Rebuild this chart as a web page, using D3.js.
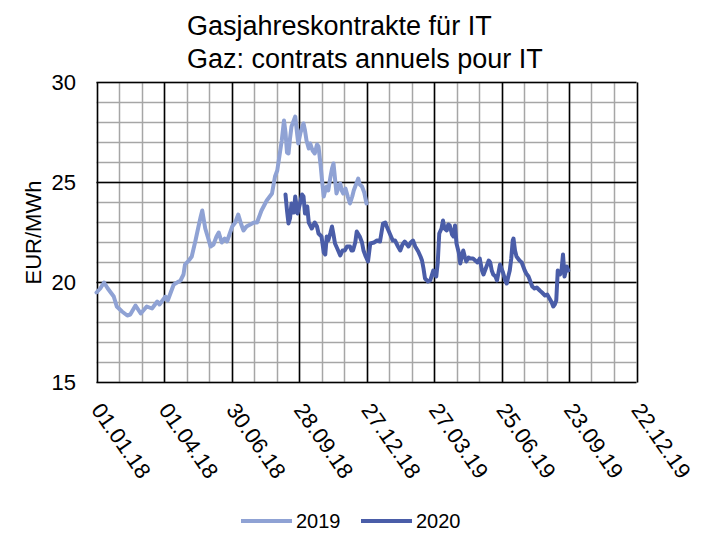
<!DOCTYPE html>
<html>
<head>
<meta charset="utf-8">
<script src="https://cdn.jsdelivr.net/npm/d3@7"></script>
<style>
  body { margin: 0; background: #fff; }
  text { font-family: "Liberation Sans", Arial, sans-serif; fill: #000; }
</style>
</head>
<body>
<div id="chart"></div>
<script>
// Titel
const titleLines = ['Gasjahreskontrakte für IT', 'Gaz: contrats annuels pour IT'];
const yLabel = 'EUR/MWh';

// Achsen
const yTicks = [15, 20, 25, 30];
const xTickLabels = ['01.01.18', '01.04.18', '30.06.18', '28.09.18', '27.12.18',
  '27.03.19', '25.06.19', '23.09.19', '22.12.19'];

// Serie 2019 (Jahreskontrakt 2019)
const dates2019 = [
  '2018-01-01','2018-01-06','2018-01-11','2018-01-16','2018-01-20','2018-01-24','2018-01-28',
  '2018-02-04','2018-02-11','2018-02-15','2018-02-22','2018-03-01','2018-03-09','2018-03-16',
  '2018-03-23','2018-03-26','2018-04-03','2018-04-06','2018-04-14','2018-04-23','2018-04-27',
  '2018-04-29','2018-05-04','2018-05-08','2018-05-13','2018-05-17','2018-05-20','2018-05-22',
  '2018-05-26','2018-05-30','2018-06-02','2018-06-06','2018-06-10','2018-06-13','2018-06-17',
  '2018-06-21','2018-06-24','2018-07-01','2018-07-05','2018-07-09','2018-07-13','2018-07-16',
  '2018-07-20','2018-07-25','2018-07-30','2018-08-03','2018-08-09','2018-08-16','2018-08-23',
  '2018-08-27','2018-08-30','2018-09-01','2018-09-05','2018-09-08','2018-09-10','2018-09-12',
  '2018-09-14','2018-09-16','2018-09-18','2018-09-20','2018-09-23','2018-09-25','2018-09-27',
  '2018-09-30','2018-10-04','2018-10-06','2018-10-08','2018-10-11','2018-10-13','2018-10-16',
  '2018-10-19','2018-10-22','2018-10-24','2018-10-27','2018-10-29','2018-10-31','2018-11-02',
  '2018-11-04','2018-11-06','2018-11-09','2018-11-11','2018-11-13','2018-11-15','2018-11-17',
  '2018-11-20','2018-11-22','2018-11-24','2018-11-26','2018-11-29','2018-12-02','2018-12-05',
  '2018-12-08','2018-12-10','2018-12-13','2018-12-16','2018-12-18','2018-12-21','2018-12-24',
  '2018-12-27'
];
const values2019 = [
  19.5, 19.7, 20.0, 19.7, 19.5, 19.3, 18.8,
  18.55, 18.35, 18.4, 18.85, 18.45, 18.8, 18.7,
  19.05, 18.9, 19.3, 19.1, 19.9, 20.1, 20.4,
  20.9, 21.1, 21.3, 22.1, 22.8, 23.3, 23.6,
  22.7, 22.2, 21.8, 21.9, 22.3, 22.5, 22.0,
  22.2, 22.05, 22.8, 23.0, 23.4, 22.9, 22.6,
  22.8, 22.9, 23.0, 23.0, 23.6, 24.1, 24.45,
  25.3, 25.6, 26.1, 27.1, 28.1, 27.5, 26.5,
  26.45, 27.2, 27.8, 28.0, 28.3, 27.6, 26.95,
  27.5, 27.95, 27.6, 27.1, 26.7, 26.95, 26.6,
  26.45, 26.9, 26.8, 25.8, 25.0, 24.3, 24.6,
  24.8, 24.6, 25.3, 25.7, 25.95, 25.2, 24.45,
  24.8, 24.95, 24.6, 24.45, 24.7, 24.3, 23.95,
  24.3, 24.6, 24.9, 25.2, 24.9, 24.8, 24.5,
  23.95
];

// Serie 2020 (Jahreskontrakt 2020)
const dates2020 = [
  '2018-09-10','2018-09-12','2018-09-14','2018-09-16','2018-09-18','2018-09-21','2018-09-23',
  '2018-09-26','2018-09-29','2018-10-02','2018-10-04','2018-10-06','2018-10-09','2018-10-11',
  '2018-10-15','2018-10-19','2018-10-22','2018-10-24','2018-10-28','2018-10-31','2018-11-02',
  '2018-11-04','2018-11-06','2018-11-09','2018-11-11','2018-11-13','2018-11-15','2018-11-18',
  '2018-11-22','2018-11-25','2018-11-28','2018-12-01','2018-12-05','2018-12-07','2018-12-09',
  '2018-12-12','2018-12-14','2018-12-18','2018-12-21','2018-12-23','2018-12-26','2018-12-29',
  '2019-01-01','2019-01-06','2019-01-10','2019-01-14','2019-01-18','2019-01-21','2019-01-23',
  '2019-01-27','2019-01-31','2019-02-03','2019-02-07','2019-02-10','2019-02-13','2019-02-16',
  '2019-02-21','2019-02-24','2019-02-27','2019-03-02','2019-03-06','2019-03-09','2019-03-11',
  '2019-03-13','2019-03-15','2019-03-19','2019-03-22','2019-03-26','2019-03-28','2019-03-30',
  '2019-04-01','2019-04-03','2019-04-06','2019-04-08','2019-04-10','2019-04-13','2019-04-15',
  '2019-04-17','2019-04-20','2019-04-22','2019-04-24','2019-04-26','2019-04-29','2019-05-01',
  '2019-05-03','2019-05-05','2019-05-07','2019-05-09','2019-05-12','2019-05-14','2019-05-18',
  '2019-05-21','2019-05-24','2019-05-27','2019-05-30','2019-06-01','2019-06-03','2019-06-05',
  '2019-06-08','2019-06-10','2019-06-12','2019-06-14','2019-06-17','2019-06-19','2019-06-21',
  '2019-06-23','2019-06-25','2019-06-27','2019-06-30','2019-07-02','2019-07-04','2019-07-06',
  '2019-07-08','2019-07-10','2019-07-11','2019-07-13','2019-07-15','2019-07-17','2019-07-19',
  '2019-07-22','2019-07-24','2019-07-26','2019-07-28','2019-07-31','2019-08-02','2019-08-05',
  '2019-08-08','2019-08-11','2019-08-15','2019-08-18','2019-08-22','2019-08-25','2019-08-28',
  '2019-08-31','2019-09-02','2019-09-04','2019-09-06','2019-09-08','2019-09-11','2019-09-13',
  '2019-09-15','2019-09-17','2019-09-20','2019-09-22'
];
const values2020 = [
  24.4, 23.6, 22.95, 23.2, 23.95, 23.5, 24.3,
  23.45, 23.9, 24.4, 24.3, 23.45, 23.8, 23.0,
  22.7, 23.0, 22.8, 22.45, 22.3, 21.5, 21.4,
  22.3, 22.1, 22.5, 22.8, 22.4, 21.95, 21.7,
  21.35, 21.6, 21.6, 21.8, 21.8, 21.6, 21.6,
  22.0, 22.55, 22.3, 22.0, 21.6, 21.3, 21.05,
  21.95, 22.0, 22.1, 22.05, 22.95, 23.0, 22.8,
  22.45, 22.1, 22.1, 21.8, 21.6, 21.9, 22.05,
  21.8, 22.0, 22.1, 21.8, 21.55, 21.3, 21.1,
  20.7, 20.2, 20.05, 20.1, 20.6, 20.4, 20.3,
  21.0, 22.45, 22.7, 23.1, 22.7, 22.6, 22.9,
  22.85, 22.4, 22.3, 22.85, 21.95, 21.5, 20.95,
  21.3, 21.6, 21.3, 21.05, 21.25, 21.2, 21.2,
  21.1, 21.0, 21.2, 20.6, 20.4, 20.6, 20.8,
  21.1, 21.0, 20.6, 20.4, 20.3, 20.1, 20.5,
  20.9, 20.7, 20.5, 20.1, 19.95, 20.3, 20.6,
  21.2, 22.1, 22.2, 21.6, 21.3, 21.2, 21.1,
  21.0, 20.8, 20.6, 20.45, 20.3, 20.1, 19.8,
  19.7, 19.75, 19.6, 19.5, 19.35, 19.4, 19.2,
  19.0, 18.8, 18.9, 19.1, 20.6, 20.4, 20.6,
  21.4, 20.3, 20.8, 20.6
];

const seriesNames = ['2019', '2020'];
const seriesColors = ['#8FA2D4', '#4A5DA8'];

const width = 706, height = 534;
const margin = { top: 82.5, right: 69.5, bottom: 151.5, left: 96.5 };

const parseDate = d3.timeParse('%Y-%m-%d');
const startDate = parseDate('2018-01-01');
const endDate = d3.timeDay.offset(startDate, 720);

const xScale = d3.scaleTime()
  .domain([startDate, endDate])
  .range([margin.left, width - margin.right]);
const yScale = d3.scaleLinear()
  .domain([15, 30])
  .range([height - margin.bottom, margin.top]);

const svg = d3.select('#chart').append('svg')
  .attr('width', width)
  .attr('height', height);

// Gitter: Nebenlinien alle 30 Tage / 1 EUR, Hauptlinien alle 90 Tage / 5 EUR
const minorX = d3.range(0, 721, 30).map(d => d3.timeDay.offset(startDate, d));
const minorY = d3.range(15, 31, 1);
const majorX = d3.range(0, 721, 90).map(d => d3.timeDay.offset(startDate, d));

const grid = svg.append('g').attr('class', 'grid');
grid.selectAll('line.minor-x')
  .data(minorX)
  .enter().append('line')
  .attr('x1', d => Math.round(xScale(d)) + 0.5)
  .attr('x2', d => Math.round(xScale(d)) + 0.5)
  .attr('y1', yScale(15)).attr('y2', yScale(30))
  .attr('stroke', '#a6a6a6').attr('stroke-width', 1.5);
grid.selectAll('line.minor-y')
  .data(minorY)
  .enter().append('line')
  .attr('y1', d => yScale(d)).attr('y2', d => yScale(d))
  .attr('x1', xScale(startDate)).attr('x2', xScale(endDate))
  .attr('stroke', '#a6a6a6').attr('stroke-width', 1.5);

grid.selectAll('line.major-x')
  .data(majorX)
  .enter().append('line')
  .attr('x1', d => Math.round(xScale(d)) + 0.5)
  .attr('x2', d => Math.round(xScale(d)) + 0.5)
  .attr('y1', yScale(15)).attr('y2', yScale(30))
  .attr('stroke', '#000').attr('stroke-width', 1.5);
grid.selectAll('line.major-y')
  .data(yTicks)
  .enter().append('line')
  .attr('y1', d => yScale(d)).attr('y2', d => yScale(d))
  .attr('x1', xScale(startDate)).attr('x2', xScale(endDate))
  .attr('stroke', '#000').attr('stroke-width', 1.5);

// Linien
const line = d3.line()
  .x(d => xScale(d.date))
  .y(d => yScale(d.value));

const series = [
  dates2019.map((d, i) => ({ date: parseDate(d), value: values2019[i] })),
  dates2020.map((d, i) => ({ date: parseDate(d), value: values2020[i] }))
];

svg.append('g').attr('class', 'lines')
  .selectAll('path')
  .data(series)
  .enter().append('path')
  .attr('d', line)
  .attr('fill', 'none')
  .attr('stroke', (d, i) => seriesColors[i])
  .attr('stroke-width', 4)
  .attr('stroke-linejoin', 'round')
  .attr('stroke-linecap', 'round');

// Y-Achse
svg.append('g').attr('class', 'y-ticks')
  .selectAll('text')
  .data(yTicks)
  .enter().append('text')
  .attr('x', 76)
  .attr('y', d => yScale(d))
  .attr('dy', '0.36em')
  .attr('text-anchor', 'end')
  .style('font-size', '22px')
  .text(d => d);

svg.append('text')
  .attr('transform', `translate(41, ${yScale(22.5)}) rotate(-90)`)
  .attr('text-anchor', 'middle')
  .style('font-size', '22px')
  .text(yLabel);

// X-Achse (gedreht)
svg.append('g').attr('class', 'x-ticks')
  .selectAll('text')
  .data(majorX)
  .enter().append('text')
  .attr('transform', d => `translate(${xScale(d) - 6}, 410) rotate(55)`)
  .attr('text-anchor', 'start')
  .style('font-size', '22px')
  .text((d, i) => xTickLabels[i]);

// Titel
svg.append('g').attr('class', 'title')
  .selectAll('text')
  .data(titleLines)
  .enter().append('text')
  .attr('x', 187)
  .attr('y', (d, i) => 35 + i * 33)
  .style('font-size', '27px')
  .text(d => d);

// Legende
const legend = svg.append('g').attr('class', 'legend');
const legendX = [241, 361];
seriesNames.forEach((name, i) => {
  legend.append('line')
    .attr('x1', legendX[i]).attr('x2', legendX[i] + 51)
    .attr('y1', 521).attr('y2', 521)
    .attr('stroke', seriesColors[i])
    .attr('stroke-width', 4);
  legend.append('text')
    .attr('x', legendX[i] + 55)
    .attr('y', 521)
    .attr('dy', '0.35em')
    .style('font-size', '20px')
    .text(name);
});
</script>
</body>
</html>
